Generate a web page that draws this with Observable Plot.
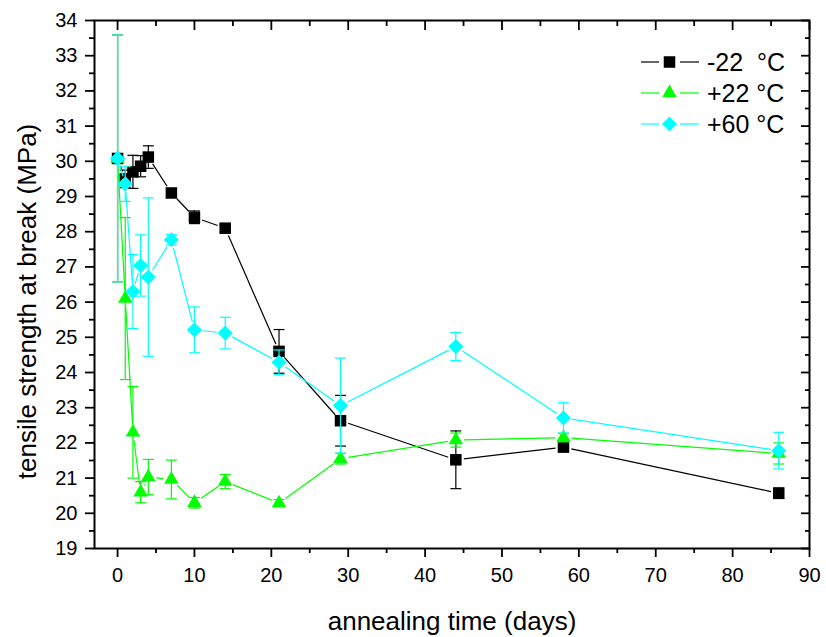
<!DOCTYPE html>
<html>
<head>
<meta charset="utf-8">
<script src="https://cdn.jsdelivr.net/npm/d3@7"></script>
<script src="https://cdn.jsdelivr.net/npm/@observablehq/plot@0.6"></script>
<style>
  html, body { margin: 0; padding: 0; background: #ffffff; }
  #chart { width: 826px; height: 637px; font-family: "Liberation Sans", Arial, sans-serif; }
</style>
</head>
<body>
<div id="chart"></div>
<script>
// ---- data ----
const days = [0, 1, 2, 3, 4, 7, 10, 14, 21, 29, 44, 58, 86];
const seriesNames = ["-22  °C", "+22 °C", "+60 °C"];
const seriesColors = ["#000000", "#00ff00", "#00ffff"];

const tensileMinus22 = [30.08, 29.5, 29.7, 29.86, 30.12, 29.1, 28.41, 28.1, 24.6, 22.63, 21.52, 21.88, 20.57];
const errMinus22     = [3.5, 0.25, 0.47, 0.3, 0.32, 0.08, 0.18, 0.1, 0.62, 0.72, 0.82, 0.1, 0.15];

const tensilePlus22  = [30.08, 26.1, 22.3, 20.6, 21.03, 20.96, 20.3, 20.9, 20.29, 21.55, 22.08, 22.15, 21.7];
const errPlus22      = [3.5, 2.3, 1.3, 0.3, 0.5, 0.55, 0.15, 0.2, 0.1, 0.15, 0.2, 0.12, 0.3];

const tensilePlus60  = [30.08, 29.36, 26.3, 27.04, 26.71, 27.77, 25.21, 25.12, 24.29, 23.06, 24.74, 22.71, 21.78];
const errPlus60      = [3.5, 0.5, 1.05, 0.87, 2.25, 0.15, 0.65, 0.45, 0.35, 1.35, 0.4, 0.43, 0.52];

const xMajorTicks = [0, 10, 20, 30, 40, 50, 60, 70, 80, 90];
const xMinorTicks = [5, 15, 25, 35, 45, 55, 65, 75, 85];
const yMajorTicks = [19, 20, 21, 22, 23, 24, 25, 26, 27, 28, 29, 30, 31, 32, 33, 34];
const yMinorTicks = [19.5, 20.5, 21.5, 22.5, 23.5, 24.5, 25.5, 26.5, 27.5, 28.5, 29.5, 30.5, 31.5, 32.5, 33.5];

const xTitle = "annealing time (days)";
const yTitle = "tensile strength at break (MPa)";

// ---- build tables ----
const means = [tensileMinus22, tensilePlus22, tensilePlus60];
const errs = [errMinus22, errPlus22, errPlus60];
const symbolsBySeries = [d3.symbolSquare, d3.symbolTriangle, d3.symbolDiamond2];
const symbolR = [6.5, 5.4, 6.8];

const tables = means.map((m, i) => days.map((d, j) => ({ series: seriesNames[i], day: d, v: m[j], e: errs[i][j] })));
const segments = tables.map(t => d3.pairs(t).map(([a, b]) => ({ x1: a.day, y1: a.v, x2: b.day, y2: b.v })));

const capSymbol = {
  draw(context, size) {
    const w = Math.sqrt(size);
    context.moveTo(-w, 0);
    context.lineTo(w, 0);
  }
};
const capR = Math.sqrt(30 / Math.PI);

const seriesMarks = [];
tables.forEach((t, i) => {
  const c = seriesColors[i];
  seriesMarks.push(
    Plot.ruleX(t, { x: "day", y1: d => d.v - d.e, y2: d => d.v + d.e, stroke: c, strokeWidth: 1.2 }),
    Plot.dot(t, { x: "day", y: d => d.v + d.e, symbol: capSymbol, r: capR, stroke: c, fill: "none", strokeWidth: 1.2 }),
    Plot.dot(t, { x: "day", y: d => d.v - d.e, symbol: capSymbol, r: capR, stroke: c, fill: "none", strokeWidth: 1.2 }),
    Plot.arrow(segments[i], { x1: "x1", y1: "y1", x2: "x2", y2: "y2", stroke: c, strokeWidth: 1.2, headLength: 0, bend: 0, inset: 8, strokeLinecap: "butt" }),
    Plot.dot(t, { x: "day", y: "v", symbol: symbolsBySeries[i], r: symbolR[i], fill: c, stroke: "none" })
  );
});

const blank = () => "";
const axisStyle = { strokeWidth: 1.8, stroke: "#000" };

const chart = Plot.plot({
  width: 826,
  height: 637,
  marginLeft: 94,
  marginRight: 17,
  marginTop: 20,
  marginBottom: 89,
  style: { fontFamily: '"Liberation Sans", Arial, sans-serif', background: "#ffffff", color: "#000" },
  x: { domain: [-3, 90], label: null },
  y: { domain: [19, 34], label: null },
  marks: [
    ...seriesMarks,
    Plot.frame({ stroke: "#000", strokeWidth: 2 }),
    // bottom axis (outward)
    Plot.axisX({ anchor: "bottom", ticks: xMajorTicks, tickSize: 9, tickPadding: 10, fontSize: 20, label: null, ...axisStyle }),
    Plot.axisX({ anchor: "bottom", ticks: xMinorTicks, tickSize: 5, tickFormat: blank, label: null, ...axisStyle }),
    // top axis (inward)
    Plot.axisX({ anchor: "top", ticks: xMajorTicks, tickSize: 9, dy: 9, tickFormat: blank, label: null, ...axisStyle }),
    Plot.axisX({ anchor: "top", ticks: xMinorTicks, tickSize: 5, dy: 5, tickFormat: blank, label: null, ...axisStyle }),
    // left axis (outward)
    Plot.axisY({ anchor: "left", ticks: yMajorTicks, tickSize: 9, tickPadding: 8, fontSize: 20, label: null, ...axisStyle }),
    Plot.axisY({ anchor: "left", ticks: yMinorTicks, tickSize: 5, tickFormat: blank, label: null, ...axisStyle }),
    // right axis (inward)
    Plot.axisY({ anchor: "right", ticks: yMajorTicks, tickSize: 9, dx: -9, tickFormat: blank, label: null, ...axisStyle }),
    Plot.axisY({ anchor: "right", ticks: yMinorTicks, tickSize: 5, dx: -5, tickFormat: blank, label: null, ...axisStyle }),
    // axis titles
    Plot.text([xTitle], { text: d => d, frameAnchor: "bottom", textAnchor: "middle", lineAnchor: "middle", dy: 73, fontSize: 26, fill: "#000" }),
    Plot.text([yTitle], { text: d => d, frameAnchor: "left", textAnchor: "middle", lineAnchor: "middle", rotate: -90, dx: -67, dy: 17, fontSize: 26, fill: "#000" })
  ]
});

document.getElementById("chart").appendChild(chart);

// ---- legend (inside plot, top right) ----
const svg = d3.select(chart);
const legend = svg.append("g").attr("class", "legend").attr("text-anchor", "start");
const legendX = 641, legendY0 = 62, legendDy = 31;
seriesNames.forEach((name, i) => {
  const g = legend.append("g").attr("transform", `translate(${legendX},${legendY0 + i * legendDy})`);
  const c = seriesColors[i];
  g.append("line").attr("x1", 0).attr("x2", 18).attr("y1", 0).attr("y2", 0).attr("stroke", c).attr("stroke-width", 1.2);
  g.append("line").attr("x1", 39).attr("x2", 58).attr("y1", 0).attr("y2", 0).attr("stroke", c).attr("stroke-width", 1.2);
  const size = Math.PI * symbolR[i] * symbolR[i];
  g.append("path").attr("transform", "translate(28.5,0)").attr("d", d3.symbol(symbolsBySeries[i], size)()).attr("fill", c);
  g.append("text").attr("x", 66).attr("y", 0).attr("dy", "0.35em")
    .attr("text-anchor", "start")
    .attr("font-size", 25).attr("fill", "#000")
    .style("white-space", "pre")
    .text(name);
});
</script>
</body>
</html>
